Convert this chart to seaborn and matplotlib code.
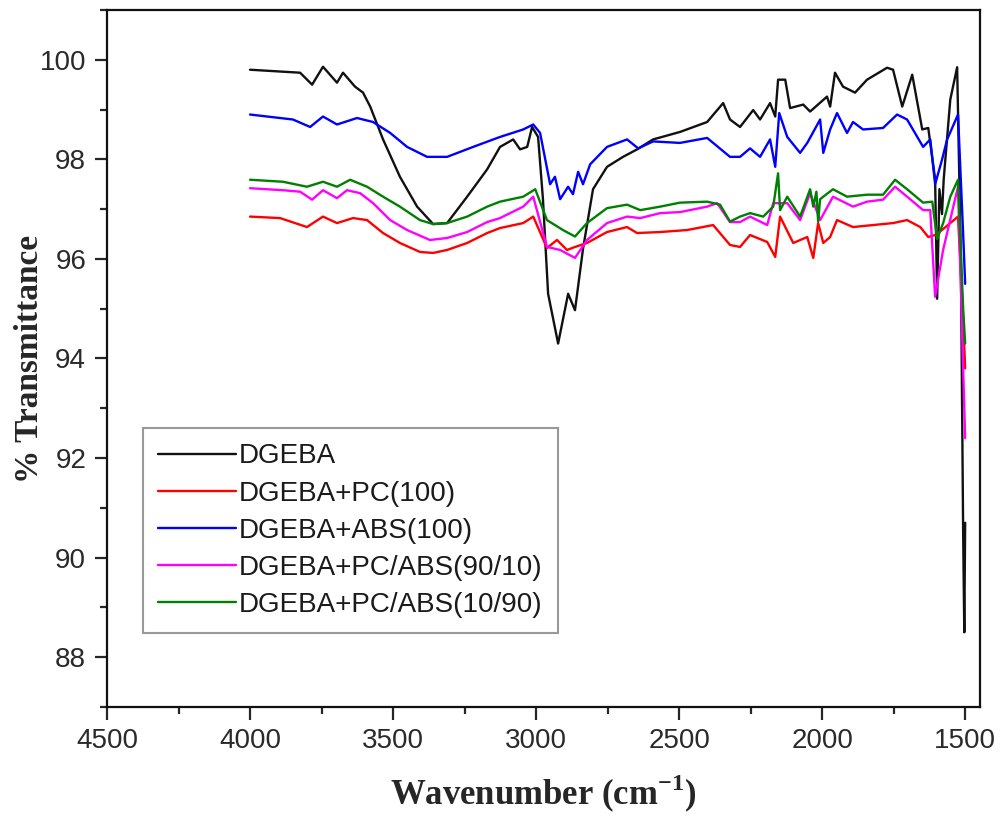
import pandas as pd
import matplotlib
matplotlib.use('Agg')
import matplotlib.pyplot as plt
from matplotlib.ticker import MultipleLocator
import seaborn as sns

# FTIR spectra, values
labels = ['DGEBA', 'DGEBA+PC(100)', 'DGEBA+ABS(100)',
          'DGEBA+PC/ABS(90/10)', 'DGEBA+PC/ABS(10/90)']
colors = ['#111111', '#ff0000', '#0000ff', '#ff00ff', '#008000']

dgeba_wn = [4000, 3825, 3783, 3745, 3696, 3675, 3633, 3605, 3580, 3535, 3476, 3416, 3360, 3311,
            3241, 3171, 3126, 3080, 3056, 3031, 3014, 2993, 2976, 2958, 2923, 2888, 2864, 2836,
            2801, 2752, 2696, 2647, 2591, 2497, 2402, 2346, 2322, 2287, 2241, 2217, 2182, 2164,
            2154, 2129, 2112, 2066, 2042, 1983, 1972, 1955, 1927, 1885, 1843, 1773, 1752, 1720,
            1685, 1650, 1629, 1605, 1598, 1590, 1581, 1575, 1552, 1528, 1515, 1507, 1503, 1500]
dgeba_t = [99.8, 99.74, 99.5, 99.86, 99.54, 99.74, 99.46, 99.34, 99.06, 98.4, 97.65, 97.05, 96.7, 96.72,
           97.25, 97.8, 98.25, 98.4, 98.2, 98.25, 98.65, 98.45, 97.2, 95.3, 94.3, 95.3, 94.97, 96.2,
           97.4, 97.85, 98.05, 98.2, 98.4, 98.55, 98.75, 99.13, 98.8, 98.65, 98.99, 98.8, 99.13, 98.86,
           99.6, 99.6, 99.03, 99.1, 98.96, 99.26, 99.06, 99.74, 99.46, 99.34, 99.6, 99.84, 99.8, 99.06,
           99.7, 98.6, 98.63, 97.6, 95.2, 97.4, 96.9, 97.6, 99.2, 99.85, 96.0, 90.5, 88.5, 90.7]

pc_wn = [4000, 3895, 3801, 3745, 3696, 3640, 3591, 3535, 3476, 3406, 3360, 3311, 3241, 3171,
         3126, 3045, 3010, 2962, 2927, 2892, 2864, 2822, 2752, 2682, 2647, 2566, 2472, 2381,
         2322, 2287, 2252, 2192, 2164, 2147, 2101, 2052, 2031, 2014, 1996, 1972, 1948, 1892,
         1822, 1752, 1703, 1657, 1629, 1605, 1581, 1525, 1507, 1500]
pc_t = [96.85, 96.82, 96.64, 96.85, 96.72, 96.82, 96.78, 96.52, 96.32, 96.14, 96.12, 96.18, 96.32, 96.52,
        96.62, 96.72, 96.85, 96.22, 96.38, 96.18, 96.24, 96.32, 96.54, 96.64, 96.52, 96.54, 96.58, 96.68,
        96.28, 96.24, 96.48, 96.34, 96.04, 96.85, 96.32, 96.44, 96.02, 96.72, 96.32, 96.44, 96.78, 96.64,
        96.68, 96.72, 96.78, 96.64, 96.44, 96.48, 96.58, 96.85, 94.8, 93.8]

abs_wn = [4000, 3850, 3790, 3745, 3696, 3626, 3570, 3510, 3451, 3381, 3311, 3220, 3126, 3045,
          3010, 2986, 2951, 2934, 2916, 2888, 2871, 2853, 2836, 2811, 2752, 2682, 2643, 2591,
          2497, 2402, 2322, 2287, 2252, 2217, 2182, 2164, 2150, 2122, 2077, 2052, 2007, 1996,
          1972, 1948, 1913, 1892, 1857, 1787, 1738, 1703, 1647, 1622, 1605, 1581, 1563, 1525,
          1507, 1500]
abs_t = [98.9, 98.8, 98.65, 98.86, 98.7, 98.83, 98.75, 98.53, 98.25, 98.05, 98.05, 98.25, 98.45, 98.6,
         98.7, 98.53, 97.5, 97.65, 97.2, 97.45, 97.3, 97.75, 97.5, 97.9, 98.25, 98.4, 98.22, 98.36,
         98.33, 98.43, 98.05, 98.05, 98.22, 98.05, 98.4, 97.85, 98.93, 98.45, 98.13, 98.33, 98.8, 98.13,
         98.6, 98.93, 98.53, 98.75, 98.6, 98.63, 98.9, 98.8, 98.25, 98.4, 97.5, 97.99, 98.4, 98.9,
         96.5, 95.5]

b9010_wn = [4000, 3885, 3825, 3783, 3745, 3696, 3661, 3615, 3570, 3510, 3451, 3371, 3311, 3241,
            3171, 3126, 3045, 3010, 2962, 2916, 2864, 2822, 2752, 2682, 2636, 2566, 2497, 2402,
            2367, 2322, 2287, 2252, 2192, 2171, 2122, 2077, 2042, 2007, 1962, 1892, 1843, 1787,
            1745, 1703, 1647, 1622, 1605, 1577, 1525, 1507, 1500]
b9010_t = [97.42, 97.38, 97.35, 97.19, 97.38, 97.22, 97.38, 97.32, 97.12, 96.78, 96.58, 96.38, 96.42, 96.54,
           96.74, 96.82, 97.05, 97.25, 96.24, 96.18, 96.02, 96.38, 96.72, 96.85, 96.82, 96.92, 96.94, 97.05,
           97.12, 96.74, 96.74, 96.85, 96.68, 97.12, 97.12, 96.78, 97.32, 96.78, 97.25, 97.05, 97.15, 97.19,
           97.45, 97.25, 96.98, 96.98, 95.24, 96.18, 97.45, 93.8, 92.4]

b1090_wn = [4000, 3885, 3801, 3745, 3696, 3650, 3591, 3535, 3476, 3406, 3360, 3311, 3241, 3171,
            3126, 3045, 3003, 2962, 2906, 2864, 2822, 2752, 2682, 2636, 2566, 2497, 2402, 2357,
            2322, 2287, 2252, 2206, 2171, 2154, 2147, 2122, 2077, 2042, 2031, 2020, 2014, 2007,
            1996, 1962, 1913, 1843, 1787, 1745, 1703, 1647, 1615, 1598, 1577, 1552, 1525, 1507, 1500]
b1090_t = [97.59, 97.55, 97.45, 97.55, 97.45, 97.59, 97.45, 97.25, 97.05, 96.78, 96.7, 96.72, 96.85, 97.05,
           97.15, 97.25, 97.4, 96.78, 96.58, 96.45, 96.72, 97.02, 97.09, 96.98, 97.05, 97.13, 97.15, 97.09,
           96.75, 96.85, 96.92, 96.85, 97.05, 97.72, 96.98, 97.25, 96.85, 97.4, 97.05, 97.35, 96.75, 97.2,
           97.25, 97.4, 97.25, 97.29, 97.29, 97.59, 97.4, 97.13, 97.15, 96.4, 96.72, 97.25, 97.59, 95.0, 94.3]

series = [(dgeba_wn, dgeba_t), (pc_wn, pc_t), (abs_wn, abs_t),
          (b9010_wn, b9010_t), (b1090_wn, b1090_t)]
df = pd.concat([pd.DataFrame({'wn': wn, 'T': t, 'sample': lab})
                for lab, (wn, t) in zip(labels, series)], ignore_index=True)

sns.set_style('ticks')
plt.rcParams['font.family'] = ['Liberation Sans', 'DejaVu Sans']
plt.rcParams['mathtext.fontset'] = 'custom'
plt.rcParams['mathtext.rm'] = 'Liberation Serif:bold'
plt.rcParams['mathtext.bf'] = 'Liberation Serif:bold'

fig = plt.figure(figsize=(10.03, 8.18), dpi=100)
ax = fig.add_axes([0.1067, 0.1357, 0.8704, 0.8521])

sns.lineplot(data=df, x='wn', y='T', hue='sample', hue_order=labels,
             palette=dict(zip(labels, colors)), sort=False, estimator=None,
             lw=1.7, ax=ax)

ax.set_xlim(4500, 1448)
ax.set_ylim(87, 101)
ax.xaxis.set_major_locator(MultipleLocator(500))
ax.xaxis.set_minor_locator(MultipleLocator(250))
ax.yaxis.set_major_locator(MultipleLocator(2))
ax.yaxis.set_minor_locator(MultipleLocator(1))
ax.tick_params(which='major', length=9, width=1.6, labelsize=20, labelcolor='#2a2a2a', pad=6)
ax.tick_params(which='minor', length=5, width=1.6)
for s in ax.spines.values():
    s.set_linewidth(1.6)
    s.set_color('#111111')

ax.set_xlabel('Wavenumber (cm$^{\\mathrm{-1}}$)', family='Liberation Serif',
              fontweight='bold', fontsize=25, labelpad=14)
ax.set_ylabel('% Transmittance', family='Liberation Serif',
              fontweight='bold', fontsize=24)
ax.yaxis.set_label_coords(-0.071, 0.5)

handles, labs = ax.get_legend_handles_labels()
leg = ax.legend(handles, labs, loc='lower left', bbox_to_anchor=(0.041, 0.106),
                borderaxespad=0, fontsize=20, handlelength=2.8, handletextpad=0.1,
                labelspacing=0.4, frameon=True, fancybox=False, edgecolor='#808080',
                borderpad=0.55)
leg.get_frame().set_linewidth(1.5)
for t in leg.get_texts():
    t.set_color('#1a1a1a')

plt.savefig('out.png', dpi=100)
